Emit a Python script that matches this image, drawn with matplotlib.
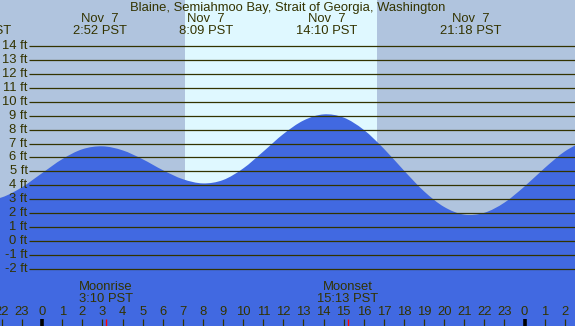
import matplotlib
matplotlib.use("Agg")
import matplotlib.pyplot as plt
import matplotlib.transforms as mtransforms
from matplotlib.path import Path
from matplotlib.patches import PathPatch
import numpy as np

plt.rcParams['font.family'] = ['Liberation Sans', 'DejaVu Sans']

# ---------------- data ----------------
title = "Blaine, Semiahmoo Bay, Strait of Georgia, Washington"

hours = list(range(-3, 28))
heights = [2.91, 3.14, 3.87, 4.88, 5.88, 6.59, 6.80, 6.51, 5.87, 5.09, 4.44,
           4.14, 4.38, 5.21, 6.42, 7.68, 8.65, 9.09, 8.86, 7.98, 6.63, 5.06,
           3.57, 2.45, 1.90, 2.03, 2.76, 3.92, 5.24, 6.43, 7.21]

extreme_times = [-3.05, 2.867, 8.15, 14.167, 21.3, 27.85]
extreme_dates = ["Nov  6", "Nov  7", "Nov  7", "Nov  7", "Nov  7", "Nov  8"]
extreme_labels = ["20:57 PST", "2:52 PST", "8:09 PST", "14:10 PST", "21:18 PST", "3:51 PST"]

sunrise, sunset = 7.11, 16.65
moon_times = [3.167, 15.217]
moon_names = ["Moonrise", "Moonset"]
moon_labels = ["3:10 PST", "15:13 PST"]

ft_levels = list(range(-2, 15))
tick_hours = list(range(-2, 28))

# ---------------- layout ----------------
W, H = 575, 326
X0, X1 = -2.10, 26.51
PX_PER_FT = 13.94
ZERO_PX = 241.1
Y1 = ZERO_PX / PX_PER_FT
Y0 = (ZERO_PX - H) / PX_PER_FT

def yfrac(py):
    return 1 - py / H

def px2x(px):
    return X0 + (X1 - X0) * px / W

txt_col = '#333300'
fs = 9.4

fig = plt.figure(figsize=(W / 100, H / 100), dpi=100)
fig.patch.set_facecolor('#B0C4DE')
ax = fig.add_axes([0, 0, 1, 1])
ax.set_xlim(X0, X1)
ax.set_ylim(Y0, Y1)
ax.axis('off')
blend = mtransforms.blended_transform_factory(ax.transData, fig.transFigure)

# daylight
ax.axvspan(sunrise, sunset, color='#DFF8FF', lw=0, zorder=0)

# tide curve: smooth Bezier path through the hourly readings
xs = np.asarray(hours, float)
ys = np.asarray(heights, float)
verts = [(xs[0], Y0 - 1), (xs[0], ys[0])]
codes = [Path.MOVETO, Path.LINETO]
for i in range(len(xs) - 1):
    p0 = np.array([xs[max(i - 1, 0)], ys[max(i - 1, 0)]])
    p1 = np.array([xs[i], ys[i]])
    p2 = np.array([xs[i + 1], ys[i + 1]])
    p3 = np.array([xs[min(i + 2, len(xs) - 1)], ys[min(i + 2, len(xs) - 1)]])
    c1 = p1 + (p2 - p0) / 6.0
    c2 = p2 - (p3 - p1) / 6.0
    verts += [tuple(c1), tuple(c2), tuple(p2)]
    codes += [Path.CURVE4] * 3
verts += [(xs[-1], Y0 - 1), (xs[0], Y0 - 1)]
codes += [Path.LINETO, Path.CLOSEPOLY]
ax.add_patch(PathPatch(Path(verts, codes), facecolor='#4169E1', lw=0, zorder=1))

# grid lines & labels
for ft in ft_levels:
    ax.plot([px2x(29), X1], [ft, ft], color=txt_col, lw=0.9, zorder=2,
            solid_capstyle='butt')
    ax.text(px2x(27.5), ft, f"{ft} ft", ha='right', va='center',
            fontsize=fs, color=txt_col, zorder=3)

# title
fig.text(0.5, yfrac(7.5), title, ha='center', va='center', fontsize=fs, color=txt_col)

# extremes labels
for tt, d, lab in zip(extreme_times, extreme_dates, extreme_labels):
    ax.text(tt, yfrac(19), d, transform=blend, ha='center', va='center',
            fontsize=fs, color=txt_col)
    ax.text(tt, yfrac(31.5), lab, transform=blend, ha='center', va='center',
            fontsize=fs, color=txt_col)

# moon labels
for tt, n, lab in zip(moon_times, moon_names, moon_labels):
    ax.text(tt, yfrac(287.5), n, transform=blend, ha='center', va='center',
            fontsize=fs, color=txt_col)
    ax.text(tt, yfrac(299.5), lab, transform=blend, ha='center', va='center',
            fontsize=fs, color=txt_col)

# hour ticks
for hr in tick_hours:
    ax.text(hr, yfrac(312), f"{hr % 24}", transform=blend, ha='center',
            va='center', fontsize=fs, color=txt_col)
    if hr % 24 == 0:
        ax.vlines(hr, yfrac(319), 0, transform=blend, color='black', lw=2.6, zorder=4)
    else:
        ax.vlines(hr, yfrac(319), 0, transform=blend, color=txt_col, lw=0.9, zorder=4)

for tt in moon_times:
    ax.vlines(tt, yfrac(319), 0, transform=blend, color='red', lw=1.0, zorder=5)

fig.savefig("out.png", dpi=100, facecolor=fig.get_facecolor())
